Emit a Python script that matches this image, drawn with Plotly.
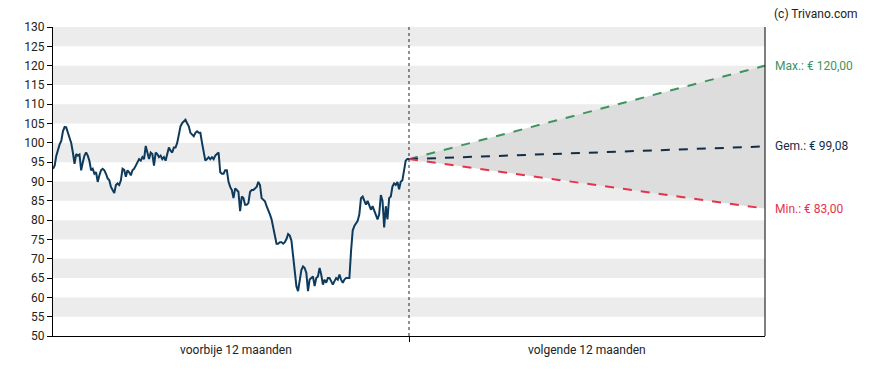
import numpy as np
import plotly.graph_objects as go

# ---- data ----
past_prices = [
    93.3, 94.1, 96.7, 98.4, 99.6, 100.5, 103, 104.1, 104, 102.6, 101.3, 100, 97.5, 94.6, 97.1, 96.7, 97,
    92.9, 95, 96.7, 97.5, 96.7, 95.3, 92.9, 93.3, 92, 92.4, 89.9, 91.6, 92.9, 93.3, 92.9, 92, 90.8,
    90.3, 88.6, 87.8, 87, 89.1, 89.5, 89.1, 90.3, 93.3, 93, 91.2, 92.9, 92.4, 91.6, 92.9, 93.3, 94.1, 95,
    95.8, 95.4, 96.3, 95.8, 99.2, 97.5, 95.8, 97.5, 97.1, 94.1, 97.5, 97.1, 96.3, 96.7, 95.8, 96.3, 95.4, 97.1,
    98.8, 98, 97.5, 98.8, 98.8, 100, 102.6, 104.3, 105.1, 105.5, 106, 105.1, 104.3, 102.6, 102.2, 101.7,
    102.6, 103, 102.6, 102.6, 100, 97.5, 95.4, 95.8, 96.3, 95.8, 96.3, 95.8, 96.7, 97.1, 97.5, 92.4, 92, 92,
    92.9, 92.9,
    89.9, 88.6, 87.8, 85.7, 88.2, 87.8, 87.3, 82.3, 86.1, 85.7, 84, 84, 84.4, 87.3, 87.8, 87.8, 88.2, 88.6,
    89.9, 89.1, 85.7, 85.3, 84.9, 83.6, 82.7, 81.5, 80.2, 78.1, 76, 73.9, 73.9, 74.3, 74.3, 73.9, 74.3, 75.1,
    76.4, 76, 74.7, 70.9, 65.9, 62.9, 61.6, 64.2, 67.1, 68, 67.6, 66.3, 61.6, 64.6, 65, 65.4, 62.9, 65, 65.4,
    67.6, 65.9, 63.3, 64.6, 63.8, 65, 65, 64.2, 63.3, 64.2, 65, 64.6, 65.9, 64.6, 63.8, 64.6, 65,
    65, 65, 72,
    77.3, 78.5, 79, 79.8, 81.5, 85.7, 86.1, 85, 84, 85, 83.6, 82.7, 83.6, 82.3, 81.1, 80.2, 81.5, 86.5, 85,
    78.1, 83.6, 80.2, 85.7, 86.1, 88.7, 89.5, 89.1, 89.9, 88, 89.9, 90.3, 93.3, 95.4, 95.8, 95.8,
]
forecast_max = 120.00
forecast_avg = 99.08
forecast_min = 83.00
period_labels = ["voorbije 12 maanden", "volgende 12 maanden"]
label_max = "Max.: € 120,00"
label_avg = "Gem.: € 99,08"
label_min = "Min.: € 83,00"
credit = "(c) Trivano.com"

y_ticks = list(range(50, 131, 5))

# ---- colors ----
C_LINE = "#0e3a5c"
C_MAX = "#3d9460"
C_AVG = "#132d48"
C_MIN = "#e6324b"
C_FILL = "#dddddd"
C_BAND = "#ececec"

start = past_prices[-1]
x_past = np.linspace(0, 1, len(past_prices))

fig = go.Figure()

# forecast range fill
fig.add_trace(go.Scatter(
    x=[1, 2, 2, 1], y=[start, forecast_max, forecast_min, start],
    fill="toself", fillcolor=C_FILL, line=dict(width=0), mode="lines",
    hoverinfo="skip", showlegend=False))

for val, col in [(forecast_max, C_MAX), (forecast_avg, C_AVG), (forecast_min, C_MIN)]:
    fig.add_trace(go.Scatter(
        x=[1, 2], y=[start, val], mode="lines",
        line=dict(color=col, width=2, dash="dash"), showlegend=False))

fig.add_trace(go.Scatter(
    x=x_past, y=past_prices, mode="lines",
    line=dict(color=C_LINE, width=2), showlegend=False))

shapes = []
for lo in range(55, 130, 10):
    shapes.append(dict(type="rect", xref="paper", yref="y", x0=0, x1=1, y0=lo, y1=lo + 5,
                       fillcolor=C_BAND, line=dict(width=0), layer="below"))
shapes.append(dict(type="line", xref="x", yref="paper", x0=1, x1=1, y0=0, y1=1,
                   line=dict(color="#222", width=1, dash="dot")))
shapes.append(dict(type="line", xref="paper", yref="paper", x0=1, x1=1, y0=0, y1=1,
                   line=dict(color="#000", width=1)))

annotations = [
    dict(x=0.515, y=0, xref="x", yref="paper", text=period_labels[0], showarrow=False,
         yanchor="top", yshift=-5, font=dict(size=12, color="#222")),
    dict(x=1.5, y=0, xref="x", yref="paper", text=period_labels[1], showarrow=False,
         yanchor="top", yshift=-5, font=dict(size=12, color="#222")),
    dict(x=1, y=forecast_max, xref="paper", yref="y", text=label_max, showarrow=False,
         xanchor="left", xshift=8, font=dict(size=12, color=C_MAX)),
    dict(x=1, y=forecast_avg, xref="paper", yref="y", text=label_avg, showarrow=False,
         xanchor="left", xshift=8, font=dict(size=12, color=C_AVG)),
    dict(x=1, y=forecast_min, xref="paper", yref="y", text=label_min, showarrow=False,
         xanchor="left", xshift=8, font=dict(size=12, color=C_MIN)),
    dict(x=1, y=1, xref="paper", yref="paper", text=credit, showarrow=False,
         xanchor="left", yanchor="bottom", xshift=7, yshift=4, font=dict(size=12, color="#222")),
]

fig.update_layout(
    width=872, height=354,
    margin=dict(l=45, r=115, t=12, b=26),
    paper_bgcolor="white", plot_bgcolor="white",
    font=dict(family="Roboto", size=11, color="#222"),
    shapes=shapes, annotations=annotations,
    xaxis=dict(range=[0, 2], tickvals=[1], ticktext=[""], ticks="outside", ticklen=5,
               tickcolor="#000", showgrid=False, zeroline=False, showline=True,
               linecolor="#000", linewidth=1, fixedrange=True),
    yaxis=dict(range=[50, 130], tickvals=y_ticks, ticks="outside", ticklen=5, tickcolor="#000",
               showgrid=False, zeroline=False, showline=True, linecolor="#000", linewidth=1,
               tickfont=dict(size=12, color="#222"), fixedrange=True),
)

fig.write_html("out.html")
